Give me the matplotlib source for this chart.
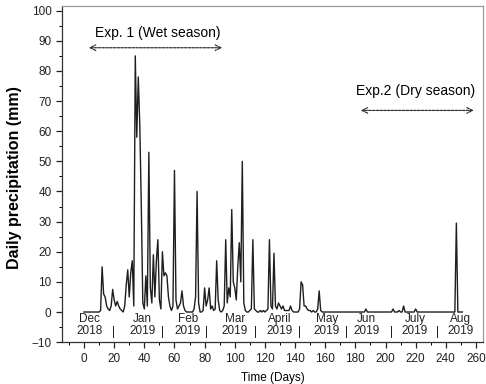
import numpy as np
import matplotlib
matplotlib.use("Agg")
import matplotlib.pyplot as plt
from matplotlib.ticker import MultipleLocator

plt.rcParams['font.family'] = ['Liberation Sans', 'DejaVu Sans']

# rainy days (day number, mm); every other day of the record is 0 mm
rain_days = [11, 12, 13, 14, 15, 16, 17, 18, 19, 20, 21, 22, 23, 24, 25,
             27, 28, 29, 30, 31, 32, 33, 34, 35, 36, 37, 38, 39, 40, 41, 42, 43, 44, 45,
             46, 47, 48, 49, 50, 51, 52, 53, 54, 55, 56, 57, 58, 59, 60, 61, 62, 63,
             64, 65, 66, 67, 73, 74, 75, 76, 79, 80, 81, 82, 83, 84, 85, 86, 87, 88,
             89, 90, 92, 93, 94, 95, 96, 97, 98, 99, 100, 101, 102, 103, 104, 105, 106,
             107, 110, 111, 112, 113, 114, 117, 119, 121, 122, 123, 124, 125, 126, 127,
             128, 129, 130, 131, 132, 133, 134, 135, 136, 137, 138, 143, 144, 145, 146,
             147, 148, 149, 150, 152, 155, 156, 157, 187, 205, 209, 212, 220, 247]
rain_mm = [0.5, 15, 6, 5, 2, 1, 0.5, 2, 7.5, 4, 2, 3.5, 2, 1, 0.5,
           2, 9, 14, 5, 13, 17, 2, 85, 58, 78, 62, 35, 3, 1, 12, 2, 53, 8, 3,
           19, 5, 17, 24, 4, 1, 20, 12, 13, 12, 5, 2, 0.5, 2, 47, 4, 1, 2,
           3, 7, 2, 0.5, 1, 5, 40, 3, 0.5, 8, 2, 4, 8, 1, 2, 0.5, 1, 17,
           4, 0.5, 0.5, 2, 24, 3, 8, 5, 34, 10, 8, 4, 15, 23, 10, 50, 3,
           0.5, 0.5, 1, 24, 1, 0.5, 0.5, 0.5, 0.5, 1, 24, 2, 1, 19.5, 2,
           1, 3, 2, 1, 2, 0.5, 0.5, 0.5, 0.5, 2, 0.5, 1, 10, 9, 2,
           2, 1, 0.5, 0.5, 0.5, 1, 7, 0.5, 1, 1, 0.5, 2, 1, 29.5]
last_day = 251

months = ['Dec\n2018', 'Jan\n2019', 'Feb\n2019', 'Mar\n2019', 'April\n2019',
          'May\n2019', 'Jun\n2019', 'July\n2019', 'Aug\n2019']
month_pos = [3.5, 39, 69, 100, 130, 161, 187.5, 219.5, 249.5]
sep_pos = [19.3, 52, 81.5, 114, 143, 174, 204, 234.5]

days = np.arange(0, last_day + 1)
precip = np.zeros(len(days))
precip[rain_days] = rain_mm

fig = plt.figure(figsize=(4.86, 3.84), dpi=100)
ax = fig.add_axes([0.1276, 0.109, 0.866, 0.875])

ax.plot(days, precip, color='#1e1e1e', lw=1.0)

ax.set_xlim(-14.6, 264.6)
ax.set_ylim(-10, 101.5)
ax.xaxis.set_major_locator(MultipleLocator(20))
ax.xaxis.set_minor_locator(MultipleLocator(10))
ax.yaxis.set_major_locator(MultipleLocator(10))
ax.yaxis.set_minor_locator(MultipleLocator(5))
ax.tick_params(which='major', length=4, width=0.9, labelsize=8.5, colors='#222222')
ax.tick_params(which='minor', length=2, width=0.7)
for s in ax.spines.values():
    s.set_linewidth(0.9)
    s.set_color('#333333')
ax.spines['top'].set_color('#999999')
ax.spines['right'].set_color('#999999')

ax.set_ylabel('Daily precipitation (mm)', fontsize=11.5, fontweight='bold')
ax.yaxis.set_label_coords(-0.095, 0.49)
ax.set_xlabel('Time (Days)', fontsize=8.5)
ax.xaxis.set_label_coords(0.5, -0.088)

# month labels along the zero line
for m, x in zip(months, month_pos):
    ax.text(x, -4.3, m, ha='center', va='center', fontsize=8.5,
            linespacing=1.0, color='#222222')
for x in sep_pos:
    ax.text(x, -6.5, '|', ha='center', va='center', fontsize=8.5, color='#222222')

# experiment periods
ax.text(49, 92.6, 'Exp. 1 (Wet season)', ha='center', va='center', fontsize=10)
ax.annotate('', xy=(1.3, 87.7), xytext=(93.5, 87.7),
            arrowprops=dict(arrowstyle='<->', ls=(0, (2, 1)), lw=0.9, color='#333333'))
ax.text(220, 73.5, 'Exp.2 (Dry season)', ha='center', va='center', fontsize=10)
ax.annotate('', xy=(181.7, 66.9), xytext=(260.4, 66.9),
            arrowprops=dict(arrowstyle='<->', ls=(0, (2, 1)), lw=0.9, color='#333333'))

fig.savefig('out.png', dpi=100)
